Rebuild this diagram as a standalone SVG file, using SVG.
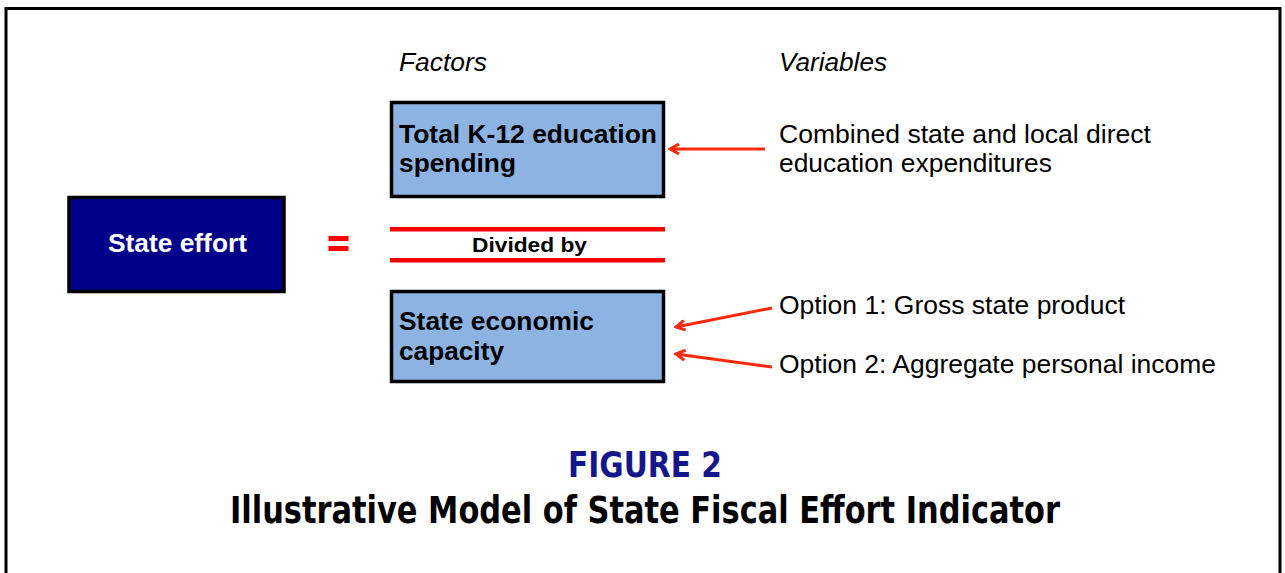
<svg xmlns="http://www.w3.org/2000/svg" width="1285" height="573" viewBox="0 0 1285 573">
<style>
.box{fill:#8DB3E2;stroke:#000;stroke-width:3.5}
.lbl{font-family:"Liberation Sans",Arial,sans-serif;font-weight:bold;font-size:26px;fill:#000}
.var{font-family:"Liberation Sans",Arial,sans-serif;font-size:25px;fill:#000}
.hdr{font-family:"Liberation Sans",Arial,sans-serif;font-style:italic;font-size:25px;fill:#000}
.arr{stroke:#FF2A0A;stroke-width:3;fill:none;marker-end:url(#ah)}
</style>
<defs>
<marker id="ah" markerWidth="12" markerHeight="12" refX="10" refY="6" orient="auto" markerUnits="userSpaceOnUse">
<path d="M1,1 L10,6 L1,11" fill="none" stroke="#FF2A0A" stroke-width="3" stroke-linejoin="miter"/>
</marker>
</defs>
<rect x="0" y="0" width="1285" height="573" fill="#fff"/>
<rect x="6" y="8.5" width="1274" height="580" fill="none" stroke="#000" stroke-width="3"/>
<text class="hdr" x="399" y="71" textLength="88" lengthAdjust="spacingAndGlyphs">Factors</text>
<text class="hdr" x="779" y="71" textLength="108" lengthAdjust="spacingAndGlyphs">Variables</text>
<g id="state-effort">
<rect x="69" y="197.5" width="215" height="94" fill="#00008B" stroke="#000" stroke-width="3.5"/>
<text x="108" y="252" font-family="Liberation Sans,Arial,sans-serif" font-weight="bold" font-size="26" fill="#fff" textLength="139" lengthAdjust="spacingAndGlyphs">State effort</text>
</g>
<g id="equals">
<rect x="328.5" y="236" width="20" height="5" fill="#FF0000"/>
<rect x="328.5" y="246" width="20" height="5" fill="#FF0000"/>
</g>
<g id="spending">
<rect class="box" x="391.5" y="102.5" width="272" height="94"/>
<text class="lbl" x="399" y="143" textLength="258" lengthAdjust="spacingAndGlyphs">Total K-12 education</text>
<text class="lbl" x="399" y="172" textLength="117" lengthAdjust="spacingAndGlyphs">spending</text>
</g>
<g id="divided">
<rect x="390" y="227" width="275" height="4.5" fill="#FF0000"/>
<rect x="390" y="258" width="275" height="4.5" fill="#FF0000"/>
<text x="472" y="251.5" font-family="Liberation Sans,Arial,sans-serif" font-weight="bold" font-size="21" fill="#000" textLength="115" lengthAdjust="spacingAndGlyphs">Divided by</text>
</g>
<g id="capacity">
<rect class="box" x="391.5" y="291.5" width="272" height="90"/>
<text class="lbl" x="399" y="330" textLength="195" lengthAdjust="spacingAndGlyphs">State economic</text>
<text class="lbl" x="399" y="360" textLength="105" lengthAdjust="spacingAndGlyphs">capacity</text>
</g>
<g id="var-expend">
<text class="var" x="779" y="143" textLength="372" lengthAdjust="spacingAndGlyphs">Combined state and local direct</text>
<text class="var" x="779" y="172" textLength="273" lengthAdjust="spacingAndGlyphs">education expenditures</text>
</g>
<g id="var-gsp">
<text class="var" x="779" y="314" textLength="346" lengthAdjust="spacingAndGlyphs">Option 1: Gross state product</text>
</g>
<g id="var-income">
<text class="var" x="779" y="373" textLength="437" lengthAdjust="spacingAndGlyphs">Option 2: Aggregate personal income</text>
</g>
<g id="connectors">
<line class="arr" x1="765" y1="149" x2="670" y2="149"/>
<line class="arr" x1="772" y1="308" x2="676" y2="327"/>
<line class="arr" x1="772" y1="367" x2="676" y2="354"/>
</g>
<g id="caption">
<text x="645" y="477" text-anchor="middle" font-family="DejaVu Sans Condensed,DejaVu Sans,sans-serif" font-weight="bold" font-size="36" fill="#16168C" textLength="154" lengthAdjust="spacingAndGlyphs">FIGURE 2</text>
<text x="645" y="523" text-anchor="middle" font-family="DejaVu Sans Condensed,DejaVu Sans,sans-serif" font-weight="bold" font-size="37" fill="#000" textLength="830" lengthAdjust="spacingAndGlyphs">Illustrative Model of State Fiscal Effort Indicator</text>
</g>
</svg>
